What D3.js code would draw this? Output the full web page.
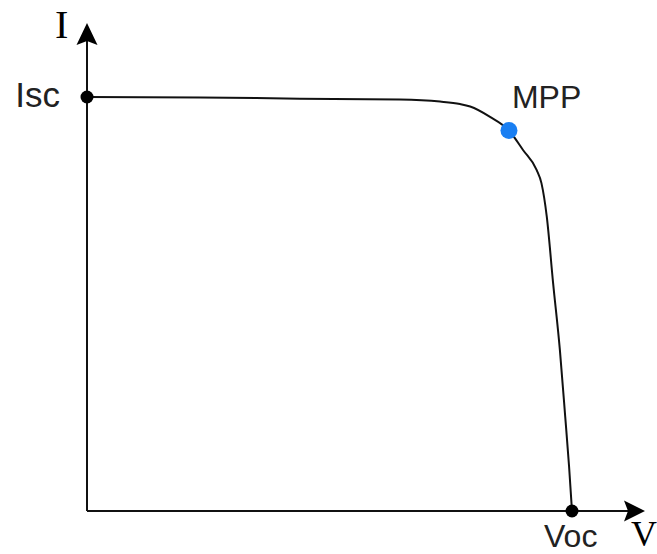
<!DOCTYPE html>
<html>
<head>
<meta charset="utf-8">
<script src="https://cdn.jsdelivr.net/npm/d3@7"></script>
<style>
  html, body { margin: 0; padding: 0; background: #fff; }
  svg { display: block; }
</style>
</head>
<body>
<svg id="chart" width="657" height="554"></svg>
<script>
// Normalised I–V curve data (V as % of Voc, I as % of Isc)
const voltage = [0, 23.3, 43.9, 64.5, 72.8, 76.9, 79.0, 83.1, 87.0, 89.9, 92.7, 93.7, 94.8, 96.1, 97.5, 98.6, 99.4, 100];
const current = [100, 99.9, 99.6, 99.4, 98.9, 98.3, 97.7, 95.2, 91.9, 87.2, 82.4, 79.2, 71.1, 55.1, 38.9, 22.8, 10.7, 0];
const pointNames = ["Isc", "MPP", "Voc"];
const pointV = [0, 87.0, 100];
const pointI = [100, 91.9, 0];
const axisLabels = ["I", "V"];

const svg = d3.select("#chart");
const x = d3.scaleLinear().domain([0, 100]).range([87, 572]);
const y = d3.scaleLinear().domain([0, 100]).range([511, 97]);
const xMaxAxis = x.invert(628);   // arrow notch
const yMaxAxis = y.invert(41);

// axes
svg.append("line")
  .attr("x1", x(0)).attr("y1", y(0)).attr("x2", x(0)).attr("y2", y(yMaxAxis))
  .attr("stroke", "#111").attr("stroke-width", 2);
svg.append("line")
  .attr("x1", x(0)).attr("y1", y(0)).attr("x2", x(xMaxAxis)).attr("y2", y(0))
  .attr("stroke", "#111").attr("stroke-width", 2);

// arrowheads
const ax = x(0), ay = y(0);
svg.append("path")
  .attr("d", `M${ax},23 L${ax + 10.5},45 L${ax},41 L${ax - 10.5},45 Z`)
  .attr("fill", "#000");
svg.append("path")
  .attr("d", `M645,${ay} L624,${ay - 10.5} L628,${ay} L624,${ay + 10.5} Z`)
  .attr("fill", "#000");

// curve
const data = voltage.map((v, i) => ({ v, i: current[i] }));
svg.append("path")
  .datum(data)
  .attr("fill", "none")
  .attr("stroke", "#111")
  .attr("stroke-width", 2)
  .attr("d", d3.line().x(d => x(d.v)).y(d => y(d.i)).curve(d3.curveMonotoneX));

// points
const pts = pointNames.map((n, k) => ({ n, v: pointV[k], i: pointI[k] }));
svg.selectAll("circle.pt").data(pts).enter().append("circle")
  .attr("class", "pt")
  .attr("cx", d => x(d.v)).attr("cy", d => y(d.i))
  .attr("r", d => d.n === "MPP" ? 8.5 : 6.5)
  .attr("fill", d => d.n === "MPP" ? "#1a7ff2" : "#000");

// point labels
const sans = "Liberation Sans, Arial, Helvetica, sans-serif";
svg.append("text").text(pts[0].n)
  .attr("x", x(pts[0].v) - 27).attr("y", y(pts[0].i) + 10)
  .attr("text-anchor", "end").attr("font-family", sans).attr("font-size", 35).attr("fill", "#222");
svg.append("text").text(pts[1].n)
  .attr("x", x(pts[1].v) + 3).attr("y", 108)
  .attr("font-family", sans).attr("font-size", 32).attr("fill", "#222");
svg.append("text").text(pts[2].n)
  .attr("x", x(pts[2].v) - 28).attr("y", 547)
  .attr("font-family", sans).attr("font-size", 32).attr("fill", "#222");

// axis labels
const serif = "Liberation Serif, Times New Roman, serif";
svg.append("text").text(axisLabels[0])
  .attr("x", 55).attr("y", 38)
  .attr("font-family", serif).attr("font-size", 40).attr("fill", "#000");
svg.append("text").text(axisLabels[1])
  .attr("x", 631).attr("y", 546)
  .attr("font-family", serif).attr("font-size", 36).attr("fill", "#000");
</script>
</body>
</html>
